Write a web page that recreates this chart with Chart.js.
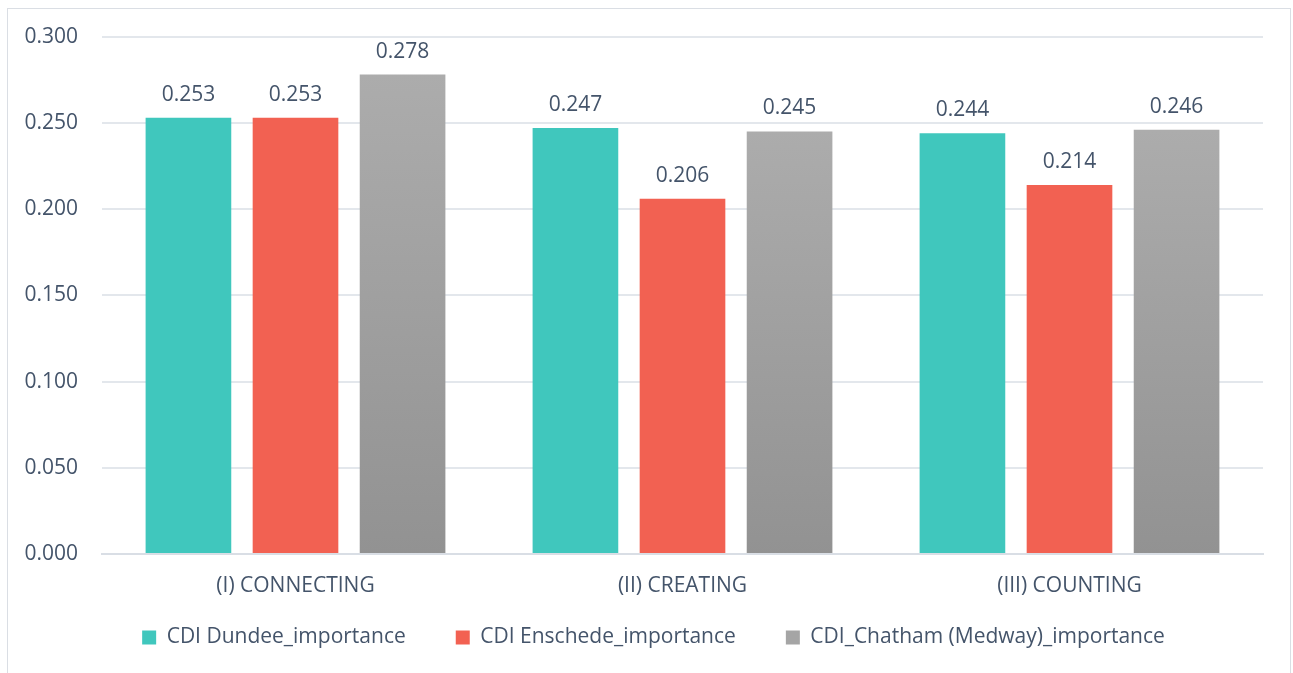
<!DOCTYPE html>
<html>
<head>
<meta charset="utf-8">
<script src="https://cdn.jsdelivr.net/npm/chart.js@4"></script>
<style>
  html, body { margin: 0; padding: 0; background: #fff; }
  #wrap { position: relative; width: 1293px; height: 673px; }
  #frame {
    position: absolute; left: 7px; top: 8px; width: 1284px; height: 680px;
    border: 1px solid #DADEE4; box-sizing: border-box; pointer-events: none;
  }
</style>
</head>
<body>
<div id="wrap">
  <canvas id="cdiChart" width="1293" height="673"></canvas>
  <div id="frame"></div>
</div>
<script>
// importance scores per CDI dimension
const categories = ["(I) CONNECTING", "(II) CREATING", "(III) COUNTING"];
const seriesNames = [
  "CDI Dundee_importance",
  "CDI Enschede_importance",
  "CDI_Chatham (Medway)_importance",
];
const dundee = [0.253, 0.247, 0.244];
const enschede = [0.253, 0.206, 0.214];
const chatham = [0.278, 0.245, 0.246];
const yTicks = [0, 0.05, 0.1, 0.15, 0.2, 0.25, 0.3];

const textColor = "#44546A";
const fontFamily = "'Open Sans', sans-serif";
const fontSize = 21;

// gray bars fade from light at the top to darker at the base
function grayGradient(ctx) {
  const chart = ctx.chart;
  if (!chart.chartArea || ctx.type !== "data") return "#A5A5A5";
  const y = chart.scales.y;
  const top = y.getPixelForValue(ctx.parsed.y);
  const bottom = y.getPixelForValue(0);
  const g = chart.ctx.createLinearGradient(0, top, 0, bottom);
  g.addColorStop(0, "#ACACAC");
  g.addColorStop(1, "#929292");
  return g;
}

// value labels above each bar
const barValues = {
  id: "barValues",
  afterDatasetsDraw(chart) {
    const c = chart.ctx;
    c.save();
    c.font = fontSize + "px " + fontFamily;
    c.fillStyle = textColor;
    c.textAlign = "center";
    c.textBaseline = "alphabetic";
    chart.data.datasets.forEach((ds, i) => {
      chart.getDatasetMeta(i).data.forEach((bar, j) => {
        c.fillText(ds.data[j].toFixed(3), bar.x, bar.y - 17);
      });
    });
    c.restore();
  },
};

// legend keeps wide gaps between items but sits closer under the axis labels
const legendPlacement = {
  id: "legendPlacement",
  afterLayout(chart) {
    const lg = chart.legend;
    const dy = chart.scales.x.bottom - 22 - lg.top;
    lg.top += dy;
    lg.bottom += dy;
    lg.left += 22;
    lg.right += 22;
  },
};

new Chart(document.getElementById("cdiChart"), {
  type: "bar",
  data: {
    labels: categories,
    datasets: [
      { label: seriesNames[0], data: dundee, backgroundColor: "#40C7BD" },
      { label: seriesNames[1], data: enschede, backgroundColor: "#F26152" },
      { label: seriesNames[2], data: chatham, backgroundColor: grayGradient },
    ],
  },
  options: {
    responsive: false,
    animation: false,
    layout: { padding: { top: 28, right: 30, bottom: -7, left: 0 } },
    datasets: {
      bar: { categoryPercentage: 0.83, barPercentage: 0.8 },
    },
    plugins: {
      legend: {
        position: "bottom",
        labels: {
          boxWidth: 14,
          boxHeight: 14,
          padding: 50,
          color: textColor,
          font: { family: fontFamily, size: fontSize },
          generateLabels(chart) {
            const fills = ["#40C7BD", "#F26152", "#A5A5A5"];
            return chart.data.datasets.map((ds, i) => ({
              text: ds.label,
              fillStyle: fills[i],
              strokeStyle: fills[i],
              lineWidth: 0,
              fontColor: textColor,
              datasetIndex: i,
            }));
          },
        },
      },
      tooltip: { enabled: false },
    },
    scales: {
      x: {
        afterFit(scale) { scale.height = 45; },
        grid: { display: false, drawTicks: false },
        border: { color: "#D9DEE5", width: 2 },
        ticks: {
          color: textColor,
          padding: 19,
          font: { family: fontFamily, size: fontSize },
        },
      },
      y: {
        min: 0,
        max: 0.3,
        afterFit(scale) { scale.width = 102; },
        afterBuildTicks(scale) { scale.ticks = yTicks.map(v => ({ value: v })); },
        border: { display: false },
        grid: { color: "#E3E7EC", lineWidth: 2, drawTicks: false },
        ticks: {
          color: textColor,
          padding: 24,
          font: { family: fontFamily, size: fontSize },
          callback: v => v.toFixed(3),
        },
      },
    },
  },
  plugins: [barValues, legendPlacement],
});
</script>
</body>
</html>
